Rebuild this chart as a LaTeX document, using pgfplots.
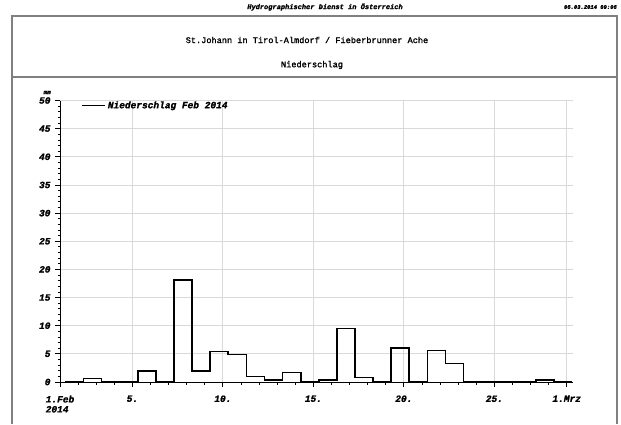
\documentclass[border=0pt]{standalone}
\usepackage{pgfplots}
\pgfplotsset{compat=1.18}
\usepackage{fontspec}
\setmainfont{Liberation Sans}
\newfontfamily\cour{Liberation Mono}[FakeBold=1.5]
\newcommand{\tickfont}{\cour\bfseries\itshape\fontsize{9.5}{10}\selectfont}
\begin{document}
\begin{tikzpicture}[x=1pt,y=1pt]
\useasboundingbox (0,0) rectangle (621,424);
\draw[black!50, line width=1.6pt] (12,0) -- (12,408) -- (617,408) -- (617,0);
\draw[black!50, line width=1.6pt] (12,347) -- (617,347);
\node[font=\cour\bfseries\itshape\fontsize{7}{8}\selectfont] at (325,417) {Hydrographischer Dienst in Österreich};
\node[anchor=east, inner sep=0pt, font=\cour\bfseries\itshape\fontsize{5.5}{6}\selectfont] at (617,417) {06.03.2014 09:06};
\node[font=\cour\fontsize{8.6}{10}\selectfont] at (307,384) {St.Johann in Tirol-Almdorf / Fieberbrunner Ache};
\node[font=\cour\fontsize{8.6}{10}\selectfont] at (312,359) {Niederschlag};
\begin{axis}[
  at={(60pt,42pt)}, anchor=south west,
  scale only axis, width=512.7pt, height=281.5pt,
  xmin=1, xmax=29.33, ymin=0, ymax=50,
  axis x line*=bottom, axis y line*=left,
  axis line style={black, line width=1pt},
  tick align=outside,
  xtick={1,5,10,15,20,25,29},
  xticklabels={{1.Feb\\2014},5.,10.,15.,20.,25.,1.Mrz},
  minor xtick={2,3,4,6,7,8,9,11,12,13,14,16,17,18,19,21,22,23,24,26,27,28},
  ytick={0,5,...,50},
  minor y tick num=4,
  major tick length=5pt, minor tick length=2.5pt,
  tick style={black, line width=0.8pt},
  xmajorgrids, ymajorgrids,
  major grid style={black!15, line width=0.8pt},
  /pgf/number format/assume math mode=true,
  xticklabel style={font=\tickfont, align=left, anchor=north, yshift=-5pt},
  yticklabel style={font=\tickfont, xshift=-1pt},
  clip=false,
  legend style={at={(0.035,1.012)}, anchor=north west, draw=none, fill=none, font=\cour\bfseries\itshape\fontsize{9.5}{10}\selectfont},
  legend image code/.code={\draw[#1] (0pt,0pt) -- (23pt,0pt);},
]
\addplot[const plot, black, line width=1.7pt] coordinates {
(1.3,0) (2.3,0.6) (3.3,0) (4.3,0) (5.3,2.0) (6.3,0) (7.3,18.1) (8.3,2.0)
(9.3,5.4) (10.3,4.9) (11.3,1.0) (12.3,0.3) (13.3,1.7) (14.3,0) (15.3,0.4)
(16.3,9.5) (17.3,0.8) (18.3,0) (19.3,6.0) (20.3,0) (21.3,5.6) (22.3,3.3)
(23.3,0) (24.3,0) (25.3,0) (26.3,0) (27.3,0.4) (28.3,0.1) (29.3,0.1)
};
\addlegendentry{Niederschlag Feb 2014}
\node[font=\cour\bfseries\itshape\fontsize{6}{6}\selectfont, anchor=south, inner sep=0pt] at (rel axis cs:-0.025,1.022) {mm};
\end{axis}
\end{tikzpicture}
\end{document}
